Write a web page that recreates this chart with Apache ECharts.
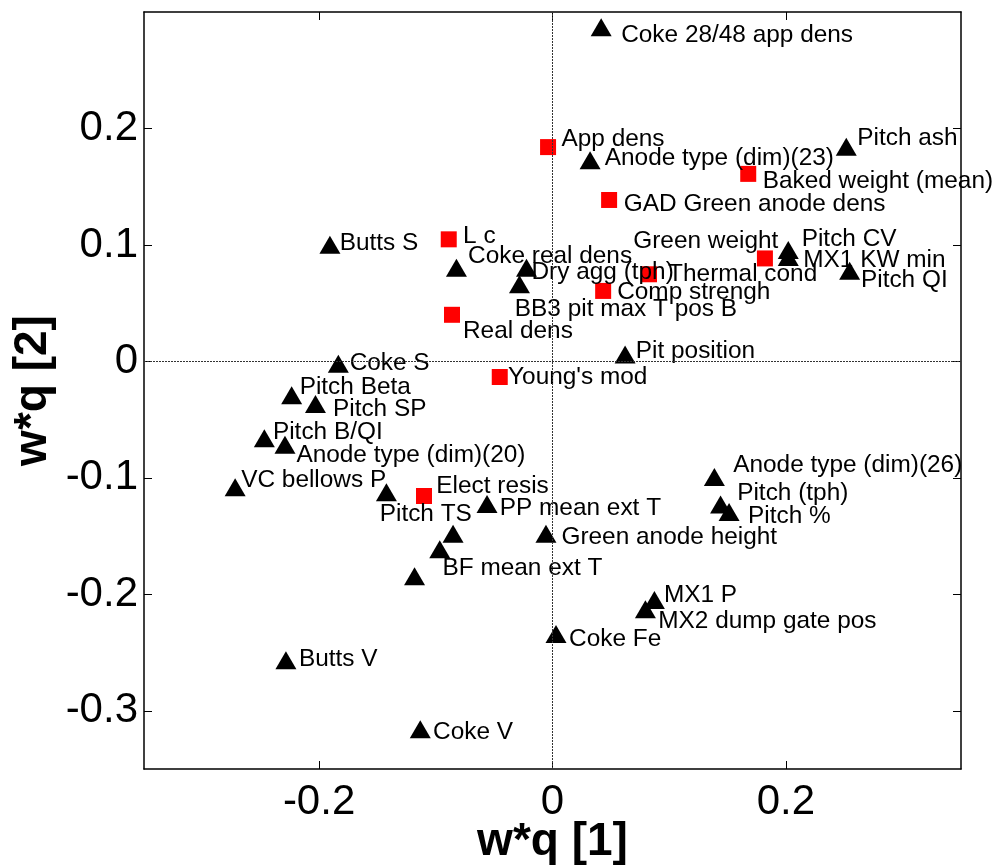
<!DOCTYPE html>
<html>
<head>
<meta charset="utf-8">
<script src="https://cdn.jsdelivr.net/npm/echarts@6/dist/echarts.min.js"></script>
<style>
  html, body { margin: 0; padding: 0; background: #fff; }
  #chart { width: 993px; height: 865px; }
</style>
</head>
<body>
<div id="chart"></div>
<script>
// ---- Data ----
var xTicks = [-0.2, 0, 0.2];
var yTicks = [-0.3, -0.2, -0.1, 0, 0.1, 0.2];

// Triangles (X variables)
var triNames = ['Coke 28/48 app dens', 'Anode type (dim)(23)', 'Pitch ash', 'Pitch CV', 'MX1 KW min',
  'Pitch QI', 'Butts S', 'Coke real dens', 'Dry agg (tph)', 'BB3 pit max T pos B',
  'Coke S', 'Pit position', 'Pitch Beta', 'Pitch SP', 'Pitch B/QI',
  'Anode type (dim)(20)', 'VC bellows P', 'Pitch TS', 'PP mean ext T', '',
  'BF mean ext T', '', 'Green anode height', 'Anode type (dim)(26)', 'Pitch (tph)',
  'Pitch %', 'MX1 P', 'MX2 dump gate pos', 'Coke Fe', 'Butts V', 'Coke V'];
var triX = [0.0417, 0.0322, 0.2517, 0.2020, 0.2020,
  0.2546, -0.1907, -0.0823, -0.0223, -0.0283,
  -0.1835, 0.0622, -0.2235, -0.2031, -0.2469,
  -0.2292, -0.2719, -0.1423, -0.0561, -0.0852,
  -0.0966, -0.1182, -0.0056, 0.1387, 0.1440,
  0.1513, 0.0873, 0.0796, 0.0030, -0.2284, -0.1133];
var triY = [0.2868, 0.1727, 0.1844, 0.0956, 0.0896,
  0.0779, 0.1002, 0.0805, 0.0805, 0.0663,
  -0.0020, 0.0060, -0.0291, -0.0365, -0.0659,
  -0.0716, -0.1081, -0.1124, -0.1224, -0.1481,
  -0.1614, -0.1845, -0.1481, -0.0993, -0.1229,
  -0.1293, -0.2049, -0.2128, -0.2340, -0.2567, -0.3159];

// Squares (Y variables)
var sqNames = ['App dens', 'Baked weight (mean)', 'GAD Green anode dens', 'Green weight', 'Thermal cond',
  'Comp strengh', 'L c', 'Real dens', "Young's mod", 'Elect resis'];
var sqX = [-0.0038, 0.1677, 0.0485, 0.1820, 0.0827, 0.0434, -0.0889, -0.0861, -0.0452, -0.1101];
var sqY = [0.1840, 0.1610, 0.1386, 0.0884, 0.0748, 0.0605, 0.1048, 0.0400, -0.0134, -0.1156];

// ---- Label layout (pixel offsets of text left/middle from the marker centre) ----
var triLabelOffset = [[20, 7.6], [14.7, -1.7], [11, -8], [13.4, -10.7], [15, 3.3],
  [11.3, 9.6], [9.7, -1], [11.6, -11.7], [5, 5], [-4.7, 25],
  [11.3, 0], [10.7, -3], [8, -8], [17.5, 5], [8.6, -6],
  [11.4, 10.7], [6, -7], [-6.7, 22.3], [12.7, 4.6], [0, 0],
  [2.7, 19], [0, 0], [15.5, 3.6], [18.8, -11.7], [16.6, -11],
  [19, 4.3], [9.5, -5], [12.8, 12.5], [13.1, 5.3], [13, -1], [12.8, 3]];
var sqLabelOffset = [[13.4, -7.5], [14.4, 7.3], [14.7, 4.5], [-131.7, -16.8], [19.1, 0],
  [14, 1.7], [14.3, -3.3], [11, 16], [8.3, 0], [12.3, -9.7]];

function build(names, xs, ys, offs) {
  return names.map(function (n, i) {
    return { name: n, value: [xs[i], ys[i]], label: { offset: offs[i] } };
  });
}

var FONT = '"Liberation Sans", Arial, sans-serif';
var labelBase = {
  show: true,
  position: 'inside',
  align: 'left',
  verticalAlign: 'middle',
  formatter: '{b}',
  color: '#000',
  opacity: 1,
  fontSize: 24.4,
  fontFamily: FONT
};

var frameLine = { show: true, onZero: false, lineStyle: { color: '#000', width: 1.5 } };

var chart = echarts.init(document.getElementById('chart'), null, { renderer: 'canvas' });
chart.setOption({
  animation: false,
  backgroundColor: '#fff',
  grid: { left: 144, right: 32, top: 12, bottom: 96, containLabel: false, outerBoundsMode: 'none' },
  xAxis: [{
    type: 'value', min: -0.35, max: 0.35, position: 'bottom',
    axisLine: frameLine,
    axisTick: { show: true, inside: true, length: 8, customValues: xTicks, lineStyle: { color: '#000', width: 1 } },
    axisLabel: { customValues: xTicks, fontSize: 42, color: '#000', fontFamily: FONT, margin: 12 },
    splitLine: { show: false },
    name: 'w*q [1]', nameLocation: 'middle', nameGap: 50, nameMoveOverlap: false,
    nameTextStyle: { fontSize: 46, fontWeight: 'bold', color: '#000', fontFamily: FONT }
  }, {
    type: 'value', min: -0.35, max: 0.35, position: 'top',
    axisLine: frameLine,
    axisTick: { show: true, inside: true, length: 8, customValues: xTicks, lineStyle: { color: '#000', width: 1 } },
    axisLabel: { show: false },
    splitLine: { show: false }
  }],
  yAxis: [{
    type: 'value', min: -0.35, max: 0.3, position: 'left',
    axisLine: frameLine,
    axisTick: { show: true, inside: true, length: 8, customValues: yTicks, lineStyle: { color: '#000', width: 1 } },
    axisLabel: { customValues: yTicks, fontSize: 42, color: '#000', fontFamily: FONT, margin: 6 },
    splitLine: { show: false },
    name: 'w*q [2]', nameLocation: 'middle', nameGap: 88, nameRotate: 90, nameMoveOverlap: false,
    nameTextStyle: { fontSize: 46, fontWeight: 'bold', color: '#000', fontFamily: FONT }
  }, {
    type: 'value', min: -0.35, max: 0.3, position: 'right',
    axisLine: frameLine,
    axisTick: { show: true, inside: true, length: 8, customValues: yTicks, lineStyle: { color: '#000', width: 1 } },
    axisLabel: { show: false },
    splitLine: { show: false }
  }],
  series: [{
    type: 'scatter',
    z: 1,
    data: [],
    silent: true,
    markLine: {
      silent: true,
      symbol: 'none',
      label: { show: false },
      lineStyle: { color: '#333', width: 1, type: [2, 1], opacity: 1 },
      data: [{ xAxis: 0 }, { yAxis: 0 }]
    }
  }, {
    name: 'X',
    type: 'scatter',
    z: 3,
    symbol: 'triangle',
    symbolSize: [21, 18],
    itemStyle: { color: '#000', opacity: 1 },
    label: labelBase,
    data: build(triNames, triX, triY, triLabelOffset)
  }, {
    name: 'Y',
    type: 'scatter',
    z: 3,
    symbol: 'rect',
    symbolSize: 16,
    itemStyle: { color: '#ff0000', opacity: 1 },
    label: labelBase,
    data: build(sqNames, sqX, sqY, sqLabelOffset)
  }]
});
</script>
</body>
</html>
